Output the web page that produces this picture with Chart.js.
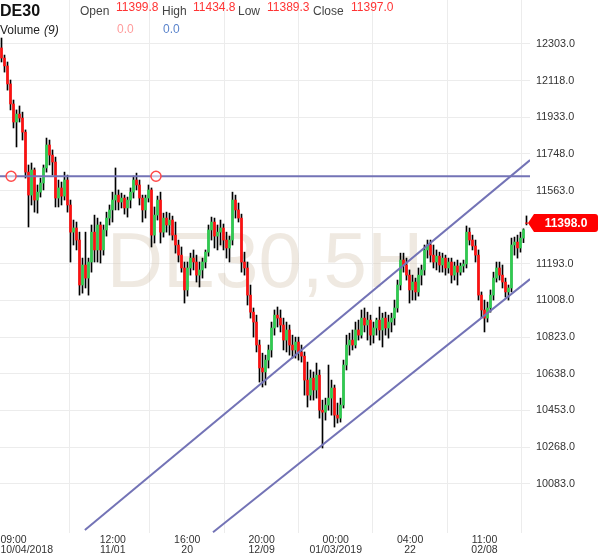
<!DOCTYPE html>
<html><head><meta charset="utf-8">
<script src="https://cdn.jsdelivr.net/npm/chart.js@4.4.0/dist/chart.umd.min.js"></script>
<style>html,body{margin:0;padding:0;background:#fff;}canvas{display:block}</style>
</head><body>
<canvas id="c" width="600" height="558"></canvas>
<script>
// ---- DATA (DE30, 5H candles) ----
const opens = [
12283,12232,12192,12101,12000,11909,11949,11929,11858,11656,
11540,11667,11515,11555,11601,11677,11793,11742,11707,11525,
11576,11535,11616,11490,11353,11374,11313,11086,11187,11121,
11202,11353,11263,11389,11263,11364,11424,11465,11515,11540,
11505,11525,11475,11515,11555,11616,11591,11525,11465,11525,
11566,11338,11439,11515,11353,11424,11389,11414,11338,11288,
11237,11172,11061,11172,11222,11202,11136,11162,11202,11252,
11364,11404,11333,11353,11374,11313,11273,11313,11515,11465,
11424,11202,11172,11035,10949,10899,10783,10667,10647,10707,
10758,10869,10934,10919,10884,10808,10859,10783,10758,10798,
10748,10727,10606,10530,10616,10556,10631,10454,10444,10480,
10515,10566,10429,10414,10480,10682,10783,10808,10783,10859,
10833,10919,10884,10909,10833,10869,10909,10859,10919,10869,
10899,10919,10970,11086,11212,11187,11136,11061,11101,11051,
11136,11162,11263,11288,11237,11202,11232,11187,11222,11172,
11202,11136,11182,11151,11182,11192,11353,11313,11283,11237,
11035,10960,10919,10970,11035,11121,11172,11136,11101,11051,
11071,11288,11303,11273,11323,11399.8];
const highs = [
12333,12247,12212,12121,12020,11970,11990,11959,11869,11692,
11702,11677,11591,11626,11692,11828,11818,11768,11732,11616,
11606,11656,11641,11515,11414,11404,11353,11222,11353,11222,
11389,11439,11424,11404,11389,11454,11490,11555,11677,11566,
11550,11540,11530,11576,11636,11651,11616,11540,11540,11591,
11576,11480,11535,11555,11449,11454,11449,11434,11404,11313,
11278,11202,11202,11247,11263,11237,11202,11222,11263,11389,
11429,11424,11389,11414,11394,11353,11333,11555,11540,11500,
11444,11252,11202,11086,10970,10934,10808,10742,10732,10783,
10899,10960,10975,10960,10919,10899,10884,10833,10823,10823,
10783,10748,10697,10657,10647,10692,10657,10505,10515,10682,
10606,10581,10490,10515,10707,10833,10843,10859,10899,10909,
10960,10970,10949,10934,10899,10919,10975,10944,10949,10934,
10944,11010,11111,11247,11247,11222,11162,11136,11121,11172,
11187,11288,11313,11313,11288,11263,11252,11247,11237,11222,
11222,11202,11212,11197,11212,11384,11374,11338,11313,11263,
11051,11010,11000,11061,11151,11202,11202,11187,11121,11086,
11323,11328,11338,11353,11370,11434.8];
const lows = [
12212,12161,12070,11970,11879,11783,11909,11818,11626,11379,
11490,11454,11449,11530,11566,11656,11692,11641,11480,11480,
11490,11515,11454,11202,11288,11263,11035,11045,11071,11035,
11151,11202,11202,11197,11237,11333,11389,11404,11465,11465,
11475,11444,11429,11475,11525,11566,11490,11404,11424,11505,
11278,11298,11414,11298,11328,11353,11338,11313,11247,11202,
11151,10995,11030,11136,11162,11101,11076,11121,11172,11232,
11313,11273,11263,11288,11263,11222,11202,11288,11424,11404,
11151,11136,10985,10919,10823,10748,10596,10571,10581,10667,
10722,10833,10874,10849,10758,10748,10732,10717,10717,10707,
10697,10530,10470,10505,10505,10515,10414,10263,10404,10454,
10429,10369,10389,10394,10465,10657,10732,10758,10768,10808,
10818,10849,10808,10783,10793,10833,10808,10773,10833,10818,
10849,10884,10949,11061,11151,11111,10995,11010,11010,11030,
11086,11136,11222,11202,11172,11162,11151,11151,11136,11146,
11096,11111,11086,11136,11151,11172,11288,11263,11202,11010,
10919,10849,10899,10949,11010,11101,11111,11071,11025,11010,
11051,11237,11222,11252,11300,11389.3];
const closes = [
12232,12192,12101,12000,11909,11949,11929,11858,11656,11540,
11667,11515,11555,11601,11677,11793,11742,11707,11525,11576,
11535,11616,11490,11353,11374,11313,11086,11187,11121,11202,
11353,11263,11389,11263,11364,11424,11465,11515,11540,11505,
11525,11475,11515,11555,11616,11591,11525,11465,11525,11566,
11338,11439,11515,11353,11424,11389,11414,11338,11288,11237,
11172,11061,11172,11222,11202,11136,11162,11202,11252,11364,
11404,11333,11353,11374,11313,11273,11313,11515,11465,11424,
11202,11172,11035,10949,10899,10783,10667,10647,10707,10758,
10869,10934,10919,10884,10808,10859,10783,10758,10798,10748,
10727,10606,10530,10616,10556,10631,10454,10444,10480,10515,
10566,10429,10414,10480,10682,10783,10808,10783,10859,10833,
10919,10884,10909,10833,10869,10909,10859,10919,10869,10899,
10919,10970,11086,11212,11187,11136,11061,11101,11051,11136,
11162,11263,11288,11237,11202,11232,11187,11222,11172,11202,
11136,11182,11151,11182,11192,11353,11313,11283,11237,11035,
10960,10919,10970,11035,11121,11172,11136,11101,11051,11071,
11288,11303,11273,11323,11365,11397.0];

const yTickValues = [10083.0,10268.0,10453.0,10638.0,10823.0,11008.0,11193.0,11378.0,11563.0,11748.0,11933.0,12118.0,12303.0];
const xTickPositions = [8.4, 37.1, 61.9, 86.7, 111.4, 136.2, 161.0];
const xTickLabels = [
  ["09:00         ","10/04/2018"],
  ["12:00","11/01"],
  ["16:00","20"],
  ["20:00","12/09"],
  ["00:00","01/03/2019"],
  ["04:00","22"],
  ["11:00","02/08"]
];
const resistanceLine = [{x:-0.5,y:11635},{x:176.2,y:11635}];
const resistanceMarks = [{x:3.2,y:11635},{x:51.5,y:11635}];
const upperChannel = [{x:27.8,y:9849},{x:176.2,y:11717}];
const lowerChannel = [{x:70.5,y:9838},{x:176.2,y:11116}];
const lastPrice = 11398.0;
const headerSymbol = 'DE30';
const headerFields = [
  {label:'Open', value:'11399.8', lx:80, vx:116},
  {label:'High', value:'11434.8', lx:162, vx:193},
  {label:'Low', value:'11389.3', lx:238, vx:267},
  {label:'Close', value:'11397.0', lx:313, vx:351}
];
const volumeValues = [{text:'0.0', color:'#ff9c9c', x:117},{text:'0.0', color:'#5b84cc', x:163}];
const watermarkText = 'DE30,5H';

// ---- CHART ----
const upColor = '#2ecc4f', downColor = '#ff1010';
const lineColor = '#7373b6';
const bodyColors = opens.map((o,i)=> closes[i] >= o ? upColor : downColor);
const wickData = lows.map((l,i)=>({x:i, y:[l, highs[i]]}));
const bodyData = opens.map((o,i)=>({x:i, y:[o, closes[i]]}));
const FONT = 'Arial, "Liberation Sans", sans-serif';

const watermarkPlugin = {
  id:'wm',
  beforeDatasetsDraw(chart){
    const {ctx, chartArea} = chart;
    ctx.save();
    ctx.font = '78px ' + FONT;
    ctx.fillStyle = 'rgba(212,198,176,0.38)';
    ctx.textAlign = 'center';
    ctx.textBaseline = 'alphabetic';
    ctx.fillText(watermarkText, chartArea.left + chartArea.width/2, 287);
    ctx.restore();
  }
};

const overlayPlugin = {
  id:'overlay',
  afterDraw(chart){
    const {ctx, chartArea} = chart;
    const ys = chart.scales.y;
    ctx.save();
    ctx.textBaseline = 'alphabetic';
    ctx.textAlign = 'left';
    ctx.fillStyle = '#111';
    ctx.font = 'bold 16px ' + FONT;
    ctx.fillText(headerSymbol, 0, 16);
    headerFields.forEach(f=>{
      ctx.font = '12px ' + FONT;
      ctx.fillStyle = '#444';
      ctx.fillText(f.label, f.lx, 15);
      ctx.fillStyle = '#ff3434';
      ctx.fillText(f.value, f.vx, 11);
    });
    ctx.fillStyle = '#222';
    ctx.font = '12px ' + FONT;
    ctx.fillText('Volume', 0, 34);
    ctx.font = 'italic 12px ' + FONT;
    ctx.fillText('(9)', 44, 34);
    ctx.font = '12px ' + FONT;
    volumeValues.forEach(v=>{ ctx.fillStyle = v.color; ctx.fillText(v.text, v.x, 33); });

    const y = Math.round(ys.getPixelForValue(lastPrice));
    const x0 = chartArea.right + 2, x1 = 598, h = 18, r = 3;
    ctx.fillStyle = '#ff0000';
    ctx.beginPath();
    ctx.moveTo(x0 - 4, y);
    ctx.lineTo(x0 + 2, y - h/2);
    ctx.lineTo(x1 - r, y - h/2);
    ctx.quadraticCurveTo(x1, y - h/2, x1, y - h/2 + r);
    ctx.lineTo(x1, y + h/2 - r);
    ctx.quadraticCurveTo(x1, y + h/2, x1 - r, y + h/2);
    ctx.lineTo(x0 + 2, y + h/2);
    ctx.closePath();
    ctx.fill();
    ctx.fillStyle = '#fff';
    ctx.font = 'bold 12px ' + FONT;
    ctx.textAlign = 'center';
    ctx.textBaseline = 'middle';
    ctx.fillText(lastPrice.toFixed(1), 566, y + 1);
    ctx.restore();
  }
};

new Chart(document.getElementById('c').getContext('2d'), {
  type: 'bar',
  data: {
    datasets: [
      { type:'line', data: resistanceMarks, showLine:false, pointRadius:5, pointStyle:'circle',
        pointBorderColor:'#ff4a4a', pointBackgroundColor:'rgba(255,255,255,0.55)', pointBorderWidth:1.5, order:0 },
      { type:'line', data: resistanceLine, borderColor: lineColor, borderWidth:2, pointRadius:0, order:1 },
      { type:'line', data: upperChannel, borderColor: lineColor, borderWidth:2, pointRadius:0, order:1 },
      { type:'line', data: lowerChannel, borderColor: lineColor, borderWidth:2, pointRadius:0, order:1 },
      { type:'bar', data: bodyData, backgroundColor: bodyColors, barThickness:2, grouped:false, borderWidth:0, order:2 },
      { type:'bar', data: wickData, backgroundColor:'#000', barThickness:1, grouped:false, borderWidth:0, order:3 }
    ]
  },
  options: {
    responsive:false,
    devicePixelRatio:1,
    animation:false,
    events:[],
    layout:{padding:0, autoPadding:false},
    plugins:{ legend:{display:false}, tooltip:{enabled:false} },
    scales:{
      x:{
        type:'linear', min:-0.5, max:176.17, offset:false,
        grid:{ color:(c)=> c.index === 0 ? 'rgba(0,0,0,0)' : '#ececec', drawTicks:false, lineWidth:1 },
        border:{display:false},
        afterBuildTicks:(s)=>{ s.ticks = xTickPositions.map(v=>({value:v})); },
        afterFit:(s)=>{ s.height = 25; s.paddingLeft = 0; s.paddingRight = 0; },
        ticks:{
          autoSkip:false, maxRotation:0, padding:2, color:'#333',
          font:{family:FONT, size:10.5, lineHeight:0.97},
          callback:(v,i)=> xTickLabels[i]
        }
      },
      y:{
        type:'linear', position:'right', min:9834, max:12525,
        grid:{ color:'#ececec', drawTicks:false, lineWidth:1 },
        border:{display:false},
        afterBuildTicks:(s)=>{ s.ticks = yTickValues.map(v=>({value:v})); },
        afterFit:(s)=>{ s.width = 70; s.paddingTop = 0; s.paddingBottom = 0; },
        ticks:{
          padding:6, color:'#333',
          font:{family:FONT, size:10.8},
          callback:(v)=> Number(v).toFixed(1)
        }
      }
    }
  },
  plugins:[watermarkPlugin, overlayPlugin]
});
</script>
</body></html>
